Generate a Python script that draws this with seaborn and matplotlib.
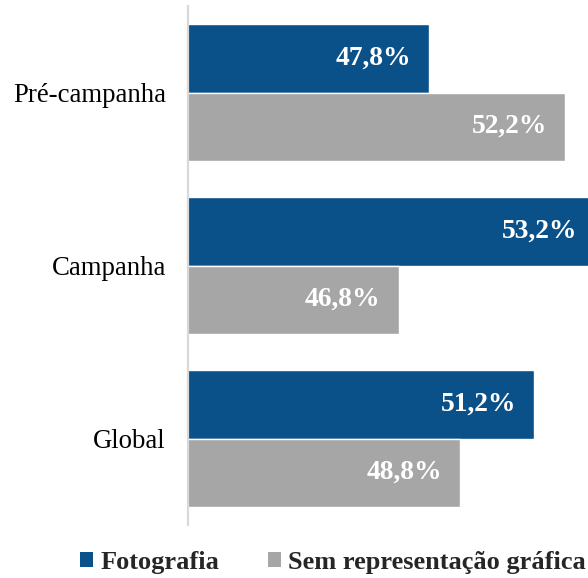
import matplotlib
matplotlib.use("Agg")
import matplotlib.pyplot as plt
import seaborn as sns
import pandas as pd
from matplotlib.patches import Patch

# Data
categorias = ["Pré-campanha", "Campanha", "Global"]
fotografia = [47.8, 53.2, 51.2]
sem_repr = [52.2, 46.8, 48.8]
series = ["Fotografia", "Sem representação gráfica"]
cores = ["#0B5189", "#A6A6A6"]

df = pd.DataFrame({
    "categoria": categorias * 2,
    "valor": fotografia + sem_repr,
    "serie": [series[0]] * 3 + [series[1]] * 3,
})

sns.set_theme(style="white")
plt.rcParams["font.family"] = ["Liberation Serif", "DejaVu Serif"]

fig = plt.figure(figsize=(5.88, 5.78), dpi=100)
ax = fig.add_axes([188 / 588, 1 - 525 / 578, 463 / 588, 519 / 578])

sns.barplot(data=df, y="categoria", x="valor", hue="serie", orient="h",
            palette=cores, width=0.79, saturation=1, ax=ax, legend=False)

ax.set_xlim(39.95, 55)
ax.set_ylim(2.5, -0.5)
ax.set_xlabel("")
ax.set_ylabel("")
ax.set_xticks([])
ax.tick_params(axis="y", length=0, pad=16, labelsize=19.3, labelcolor="black")
for s in ["top", "right", "bottom"]:
    ax.spines[s].set_visible(False)
ax.spines["left"].set_color("#D9D9D9")
ax.spines["left"].set_linewidth(1.6)

# value labels inside bars
for cont in ax.containers:
    for bar in cont:
        w = bar.get_width()
        yc = bar.get_y() + bar.get_height() / 2
        ax.annotate(f"{w:.1f}%".replace(".", ","), xy=(w, yc),
                    xytext=(-18, 0), textcoords="offset pixels",
                    ha="right", va="center", color="white",
                    fontsize=19.8, fontweight="bold", annotation_clip=False)

handles = [Patch(facecolor=c, edgecolor="none") for c in cores]
fig.legend(handles, series, loc="center", bbox_to_anchor=(0.566, 1 - 562 / 578),
           ncol=2, frameon=False, handlelength=0.5, handleheight=0.5,
           handletextpad=0.25, columnspacing=1.85,
           prop={"size": 19, "weight": "bold"})

fig.savefig("out.png", dpi=100)
